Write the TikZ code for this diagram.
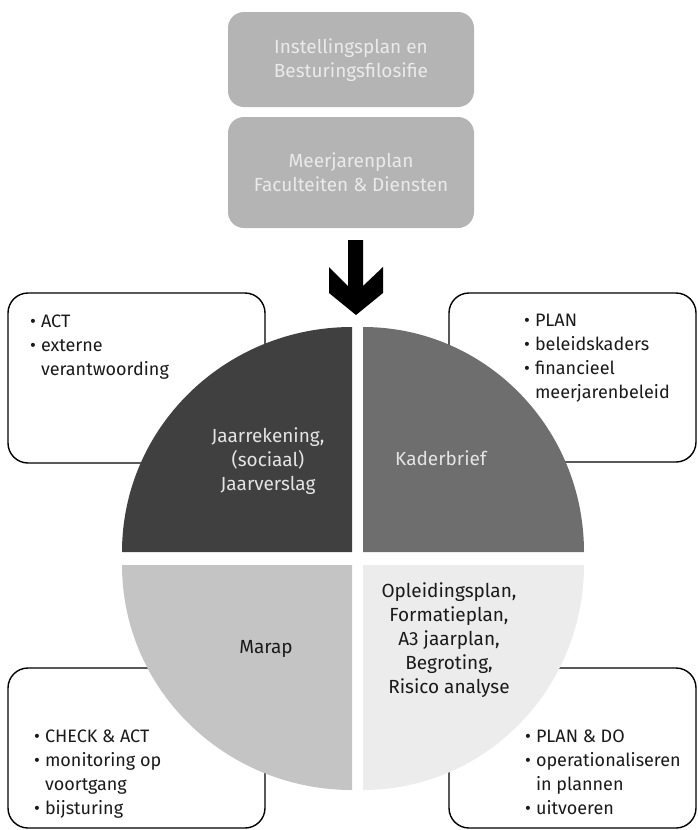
\documentclass[tikz,border=0pt]{standalone}
\usepackage{fontspec}
\setmainfont{Fira Sans}
\definecolor{topgray}{HTML}{B4B4B4}
\definecolor{toptext}{HTML}{EAEAEA}
\definecolor{qone}{HTML}{404040}
\definecolor{qtwo}{HTML}{6E6E6E}
\definecolor{qthree}{HTML}{C4C4C4}
\definecolor{qfour}{HTML}{ECECEC}
\definecolor{darktext}{HTML}{1A1A1A}
\definecolor{lighttext}{HTML}{E4E4E4}
\newcommand\mylines[2]{\begin{tabular}[t]{@{}#1@{}}#2\end{tabular}}
\newcommand\bullist[1]{\begin{tabular}[t]{@{}l@{\hspace{5pt}}l@{}}#1\end{tabular}}
\newcommand\txtfont{\fontsize{19}{24}\selectfont}
\newcommand\bulfont{\fontsize{18}{24}\selectfont}
\begin{document}
\begin{tikzpicture}[x=1pt,y=-1pt,
  topbox/.style={fill=topgray, rounded corners=16pt, inner sep=0pt},
  sidebox/.style={draw=black, line width=1.4pt, fill=white, rounded corners=20pt, inner sep=0pt},
  toptxt/.style={font=\txtfont, text=toptext, anchor=base, inner sep=0pt},
  qtxt/.style={font=\txtfont, anchor=base, inner sep=0pt},
  btxt/.style={font=\bulfont, text=darktext, anchor=base west, inner sep=0pt}]
\useasboundingbox (0,0) rectangle (697,830);

% top boxes
\node[topbox, minimum width=246pt, minimum height=95pt] (plan) at (351,59.5) {};
\node[toptxt] (plantxt) at (351,53) {\mylines{c}{Instellingsplan en\\Besturingsfilosifie}};
\node[topbox, minimum width=246pt, minimum height=111pt] (meer) at (351,172.5) {};
\node[toptxt] (meertxt) at (351,167) {\mylines{c}{Meerjarenplan\\Faculteiten \& Diensten}};

% arrow
\fill[black] (348,240) -- (348,286) -- (329,267) -- (329,293) -- (356,315)
  -- (383,293) -- (383,267) -- (363,286) -- (363,240) -- cycle;
\coordinate (arrowtip) at (356,315);

% side boxes
\node[sidebox, minimum width=257pt, minimum height=170pt] (boxtl) at (136.5,378) {};
\node[sidebox, minimum width=247pt, minimum height=169pt] (boxtr) at (572.5,377.5) {};
\node[sidebox, minimum width=257pt, minimum height=160pt] (boxbl) at (136.5,748) {};
\node[sidebox, minimum width=247pt, minimum height=160pt] (boxbr) at (572.5,748) {};

% quadrants
\fill[qone] (352,552) -- ++(-230,0) arc[start angle=180, end angle=270, x radius=230, y radius=225] -- cycle;
\fill[qtwo] (363,552) -- ++(0,-225) arc[start angle=270, end angle=360, x radius=221, y radius=225] -- cycle;
\fill[qthree] (352,565) -- ++(-230,0) arc[start angle=180, end angle=90, x radius=230, y radius=225] -- cycle;
\fill[qfour] (363,565) -- ++(221,0) arc[start angle=0, end angle=90, x radius=221, y radius=225] -- cycle;

% quadrant texts
\node[qtxt, text=lighttext] (jaar) at (268,442) {\mylines{c}{Jaarrekening,\\(sociaal)\\Jaarverslag}};
\node[qtxt, text=lighttext, anchor=base west] (kader) at (395,465) {Kaderbrief};
\node[qtxt, text=darktext] (marap) at (266,653) {Marap};
\node[qtxt, text=darktext] (oplei) at (449,597) {\mylines{c}{Opleidingsplan,\\Formatieplan,\\A3 jaarplan,\\Begroting,\\Risico analyse}};

% bullet texts
\node[btxt] (acttxt) at (30,327) {\bullist{•&ACT\\•&externe\\&verantwoording}};
\node[btxt] (plantx) at (524,326) {\bullist{•&PLAN\\•&beleidskaders\\•&financieel\\&meerjarenbeleid}};
\node[btxt] (checktxt) at (34,742) {\bullist{•&CHECK \& ACT\\•&monitoring op\\&voortgang\\•&bijsturing}};
\node[btxt] (dotxt) at (525,742) {\bullist{•&PLAN \& DO\\•&operationaliseren\\&in plannen\\•&uitvoeren}};
\end{tikzpicture}
\end{document}
